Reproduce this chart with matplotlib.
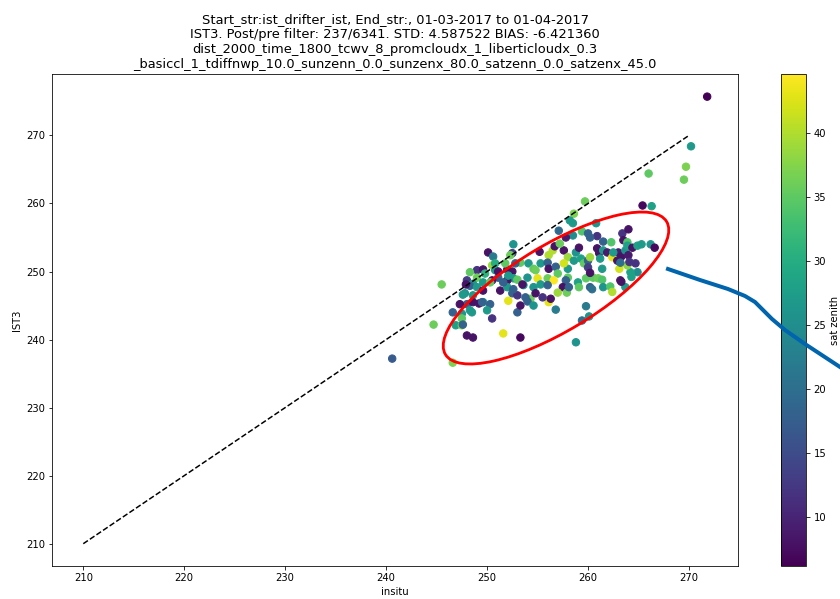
import matplotlib
matplotlib.use('Agg')
import matplotlib.pyplot as plt
from matplotlib.patches import Ellipse
from matplotlib.lines import Line2D


# matchups: insitu temp, IST3 temp, sat zenith
insitu = [271.8, 270.2, 269.7, 269.5, 266.0, 266.3, 265.4, 259.7, 258.6, 258.5,
          260.8, 258.5, 259.4, 260.0, 260.9, 263.4, 264.0, 263.5, 263.9, 261.5,
          262.3, 257.8, 257.1, 260.2, 257.6, 258.0, 258.8, 259.1, 258.6, 259.3,
          259.6, 260.0, 260.0, 260.2, 260.9, 261.1, 261.5, 261.9, 261.2, 262.4,
          263.0, 262.9, 263.1, 263.3, 263.7, 263.9, 264.4, 264.9, 265.3, 266.2,
          266.6, 264.0, 264.7, 264.9, 264.2, 263.9, 261.4, 260.5, 261.0, 261.4,
          259.8, 259.0, 258.0, 260.2, 263.2, 261.5, 262.2, 263.7, 263.3, 260.4,
          259.8, 260.1, 259.4, 258.8, 252.6, 250.1, 250.6, 252.5, 253.3, 252.3,
          255.2, 256.5, 256.7, 257.2, 256.1, 249.0, 249.6, 248.3, 249.0, 249.8,
          250.5, 250.8, 252.0, 252.5, 251.8, 252.8, 254.1, 254.6, 255.3, 256.0,
          256.1, 256.8, 257.0, 255.0, 256.0, 256.6, 254.8, 254.0, 252.6, 252.0,
          251.1, 250.5, 249.6, 248.0, 248.6, 257.8, 258.0, 257.6, 248.3, 249.0,
          247.8, 248.6, 249.6, 250.3, 251.3, 252.0, 252.5, 253.0, 253.6, 254.6,
          255.3, 256.0, 257.5, 257.9, 256.1, 256.8, 254.3, 254.8, 253.0, 246.6,
          247.5, 248.5, 249.2, 249.6, 248.0, 248.6, 250.5, 247.5, 246.9, 247.5,
          248.0, 248.6, 251.6, 253.3, 246.6, 253.3, 252.1, 254.0, 254.6, 255.5,
          256.3, 257.0, 258.1, 259.1, 245.5, 244.7, 240.6, 251.1, 252.1, 253.0,
          253.5, 251.6, 252.6, 253.8, 247.9, 247.6, 247.3, 249.5, 250.3, 248.3,
          250.0, 247.6, 250.8, 262.5, 264.1, 260.2, 262.4, 264.3, 263.2, 258.2]
ist3 = [275.7, 268.4, 265.4, 263.5, 264.4, 259.6, 259.7, 260.3, 258.5, 257.1,
        257.1, 255.3, 255.9, 255.6, 255.2, 255.6, 256.2, 254.6, 254.3, 254.4,
        254.3, 255.0, 256.0, 255.0, 253.1, 252.1, 252.8, 253.5, 251.6, 251.9,
        251.2, 251.6, 250.6, 252.1, 253.4, 252.7, 253.1, 252.8, 251.9, 252.1,
        252.8, 251.6, 250.4, 252.2, 253.1, 253.8, 253.5, 253.8, 254.0, 254.0,
        253.5, 252.4, 251.2, 249.9, 249.9, 250.9, 250.4, 249.1, 249.0, 248.8,
        249.0, 248.4, 249.1, 247.7, 248.7, 247.7, 247.8, 247.7, 248.5, 247.4,
        244.9, 243.4, 242.8, 239.6, 254.0, 252.8, 252.2, 252.7, 251.3, 252.4,
        252.9, 253.1, 253.7, 254.1, 252.4, 250.2, 250.3, 249.9, 249.1, 249.7,
        250.9, 250.2, 250.3, 250.0, 251.2, 251.2, 251.2, 250.4, 251.2, 251.3,
        250.4, 250.7, 249.7, 249.0, 249.0, 248.7, 250.2, 249.1, 249.0, 248.7,
        249.1, 248.7, 248.4, 248.7, 248.2, 248.7, 250.4, 251.2, 247.9, 247.7,
        246.8, 246.5, 247.2, 248.4, 247.2, 247.7, 246.8, 246.5, 248.0, 247.7,
        248.1, 248.0, 247.7, 246.9, 245.5, 244.4, 246.0, 246.8, 244.0, 244.0,
        243.8, 244.0, 245.3, 245.5, 245.2, 245.5, 243.1, 243.1, 242.1, 242.1,
        240.6, 240.3, 240.9, 240.3, 236.6, 245.0, 245.7, 245.6, 245.0, 246.2,
        246.0, 246.9, 247.7, 247.7, 248.1, 242.2, 237.2, 250.0, 249.4, 248.8,
        248.1, 248.4, 247.4, 246.2, 248.1, 246.6, 245.2, 245.5, 245.2, 244.3,
        244.3, 242.2, 251.2, 252.8, 251.4, 249.8, 247.0, 249.2, 251.3, 257.5]
sat_zenith = [6.2, 27, 37, 36, 35, 28, 7, 36, 37, 27,
              26, 25, 34, 18, 12, 12, 8, 8, 34, 18,
              34, 9, 19, 18, 8, 39, 26, 8, 27, 28,
              35, 18, 13, 39, 8, 8, 27, 9, 27, 43,
              9, 8, 42, 8, 26, 28, 8, 28, 27, 26,
              7, 9, 12, 25, 28, 38, 27, 35, 36, 34,
              35, 28, 35, 18, 8, 26, 34, 27, 8, 20,
              22, 26, 20, 26, 26, 8, 22, 13, 35, 36,
              8, 40, 8, 36, 40, 12, 8, 35, 36, 31,
              39, 27, 8, 8, 35, 18, 27, 35, 27, 18,
              8, 18, 35, 43, 36, 44.6, 36, 26, 27, 8,
              18, 8, 27, 13, 27, 18, 27, 42, 18, 27,
              26, 27, 8, 35, 8, 27, 18, 12, 27, 26,
              27, 18, 8, 36, 43, 22, 36, 8, 18, 18,
              26, 27, 8, 27, 18, 8, 12, 35, 28, 37,
              8, 8, 43, 7, 37, 8, 43, 18, 26, 12,
              8, 39, 18, 35, 36, 36, 17, 8, 27, 35,
              8, 18, 18, 18, 8, 27, 8, 18, 18, 27,
              27, 18, 30, 27, 12, 8, 40, 28, 20, 27]

title = ('Start_str:ist_drifter_ist, End_str:, 01-03-2017 to 01-04-2017\n'
         'IST3. Post/pre filter: 237/6341. STD: 4.587522 BIAS: -6.421360\n'
         'dist_2000_time_1800_tcwv_8_promcloudx_1_liberticloudx_0.3\n'
         '_basiccl_1_tdiffnwp_10.0_sunzenn_0.0_sunzenx_80.0_satzenn_0.0_satzenx_45.0')

DPI = 72
fig = plt.figure(figsize=(840 / DPI, 599 / DPI), dpi=DPI)
ax = fig.add_axes([0.062, 0.055, 0.817, 0.821])

sc = ax.scatter(insitu, ist3, c=sat_zenith, cmap='viridis', s=55)
ax.plot([210, 270], [210, 270], 'k--')
ax.set_xlabel('insitu')
ax.set_ylabel('IST3')
ax.set_title(title, fontsize=13)

cax = fig.add_axes([0.930, 0.055, 0.030, 0.821])
cb = fig.colorbar(sc, cax=cax)
cb.set_label('sat zenith')


def px(x, y):
    # image pixels (top-left origin) -> inches from bottom-left
    return x / DPI, (599 - y) / DPI


# hand drawn highlight (red ring + blue stroke)
ring = Ellipse(px(556, 288), 258 / DPI, 86 / DPI, angle=31, fill=False,
               edgecolor='red', linewidth=2.8, transform=fig.dpi_scale_trans)
fig.add_artist(ring)

stroke = [px(x, y) for x, y in [(668, 269), (700, 280), (728, 289), (745, 296),
                                (755, 302), (763, 310), (772, 319), (785, 330),
                                (805, 344), (840, 367)]]
fig.add_artist(Line2D([p[0] for p in stroke], [p[1] for p in stroke],
                      color='#0065ad', linewidth=4, solid_joinstyle='round',
                      transform=fig.dpi_scale_trans))

plt.savefig('out.png', dpi=DPI)
